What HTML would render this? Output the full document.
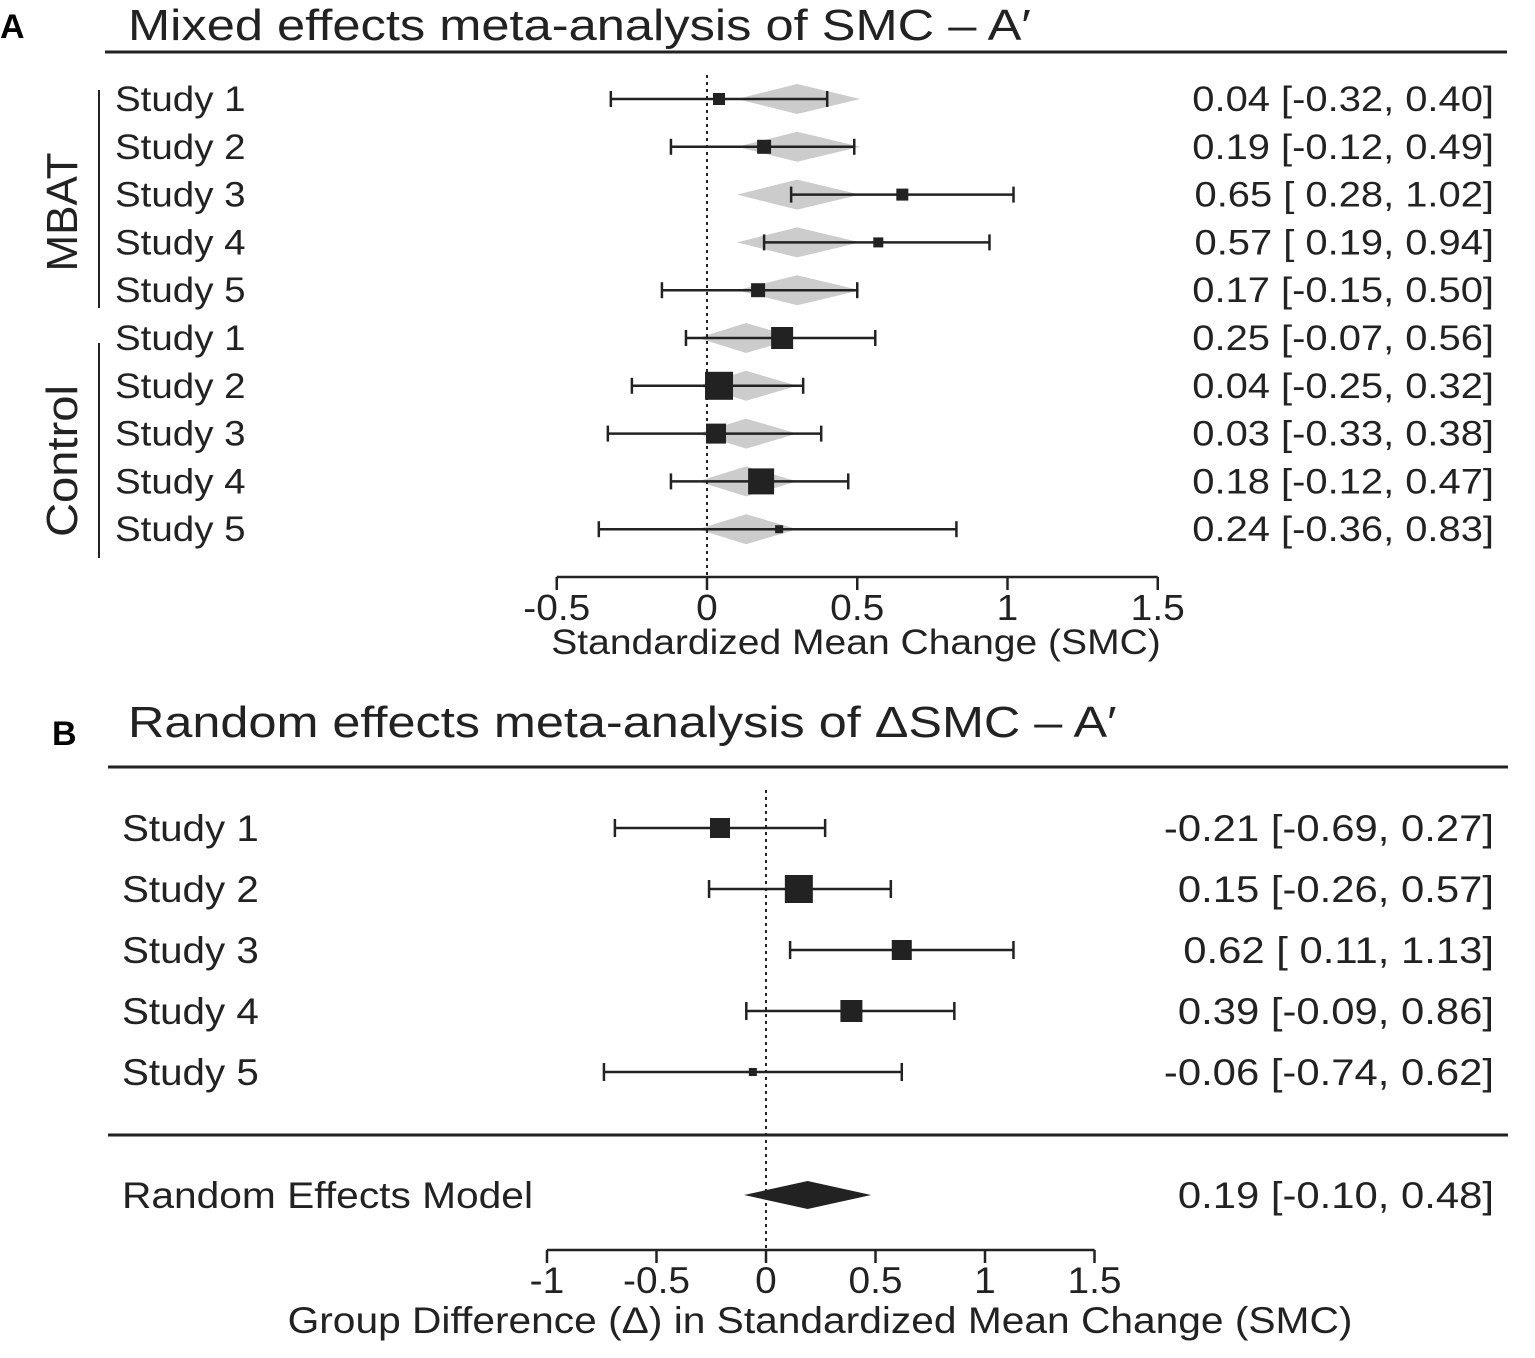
<!DOCTYPE html>
<html><head><meta charset="utf-8"><style>
body{margin:0;background:#fff}
svg{display:block;font-family:"Liberation Sans",sans-serif}
</style></head><body>
<svg id="c" width="1535" height="1358" viewBox="0 0 1535 1358">
<text x="0" y="38" font-size="34" font-weight="bold">A</text>
<text class="w" data-f="1.15" x="128" y="40" font-size="44" fill="#222">Mixed effects meta-analysis of SMC – A′</text>
<line x1="105" y1="52" x2="1507" y2="52" stroke="#222" stroke-width="3"/>
<line x1="99" y1="90" x2="99" y2="308" stroke="#222" stroke-width="2"/>
<line x1="99" y1="343" x2="99" y2="558" stroke="#222" stroke-width="2"/>
<text transform="translate(77,212) rotate(-90)" text-anchor="middle" font-size="44" fill="#222">MBAT</text>
<text transform="translate(77,461) rotate(-90)" text-anchor="middle" font-size="44" fill="#222" textLength="152" lengthAdjust="spacingAndGlyphs">Control</text>
<text class="w" data-f="1.145" x="128" y="737" font-size="44" fill="#222">Random effects meta-analysis of ΔSMC – A′</text>
<text x="52" y="745" font-size="34" font-weight="bold">B</text>
<line x1="108" y1="767" x2="1508" y2="767" stroke="#222" stroke-width="3"/>
<line x1="108" y1="1135" x2="1508" y2="1135" stroke="#222" stroke-width="3"/>
<g id="ga"></g><g id="gb"></g>
</svg>
<script>
const aLabels=["Study 1","Study 2","Study 3","Study 4","Study 5","Study 1","Study 2","Study 3","Study 4","Study 5"];
const aEst=[0.04,0.19,0.65,0.57,0.17,0.25,0.04,0.03,0.18,0.24];
const aLo=[-0.32,-0.12,0.28,0.19,-0.15,-0.07,-0.25,-0.33,-0.12,-0.36];
const aHi=[0.40,0.49,1.02,0.94,0.50,0.56,0.32,0.38,0.47,0.83];
const aWeight=[12,14,12,10,14,22,28,20,26,8];
const aPredMbat=[0.10,0.30,0.51];
const aPredCtrl=[-0.03,0.13,0.30];
const aTicks=[-0.5,0,0.5,1,1.5];
const bLabels=["Study 1","Study 2","Study 3","Study 4","Study 5"];
const bEst=[-0.21,0.15,0.62,0.39,-0.06];
const bLo=[-0.69,-0.26,0.11,-0.09,-0.74];
const bHi=[0.27,0.57,1.13,0.86,0.62];
const bWeight=[20,28,20,22,8];
const bRE=[0.19,-0.10,0.48];
const bTicks=[-1,-0.5,0,0.5,1,1.5];
const NS="http://www.w3.org/2000/svg";
function mk(p,t,at){const e=document.createElementNS(NS,t);for(const k in at)e.setAttribute(k,at[k]);p.appendChild(e);return e;}
const f=v=>v.toFixed(2);
const ci=(e,l,h)=>(e<0?"-":"")+f(Math.abs(e))+" ["+(l<0?"-":" ")+f(Math.abs(l))+", "+f(h)+"]";
// Panel A
const xa=v=>707+v*300.5, ya=i=>99+i*47.8;
const ga=document.getElementById('ga');
aLabels.forEach((lab,i)=>{
 const y=ya(i), pr=i<5?aPredMbat:aPredCtrl;
 let d=mk(ga,'polygon',{points:`${xa(pr[0])},${y} ${xa(pr[1])},${y-15} ${xa(pr[2])},${y} ${xa(pr[1])},${y+15}`,fill:'#ccc'});
 
 
});
let dl=mk(ga,'line',{x1:xa(0),y1:75,x2:xa(0),y2:577,stroke:'#222','stroke-width':2,'stroke-dasharray':'3,4'});


aLabels.forEach((lab,i)=>{
 const y=ya(i);
 let t=mk(ga,'text',{x:115,y:y+12,'font-size':35,fill:'#222',class:'w'});t.textContent=lab;
 
 
 let l=mk(ga,'line',{x1:xa(aLo[i]),y1:y,x2:xa(aHi[i]),y2:y,stroke:'#222','stroke-width':2.5});
 
 
 [aLo[i],aHi[i]].forEach(v=>{let c=mk(ga,'line',{x1:xa(v),y1:y-8,x2:xa(v),y2:y+8,stroke:'#222','stroke-width':2.5});
 
 });
 const s=aWeight[i];
 let r=mk(ga,'rect',{x:xa(aEst[i])-s/2,y:y-s/2,width:s,height:s,fill:'#222'});
 
 
 let v=mk(ga,'text',{x:1494,y:y+12,'font-size':35,fill:'#222','text-anchor':'end',class:'w','data-f':'1.14'});v.textContent=ci(aEst[i],aLo[i],aHi[i]);
 
 
});
let ax=mk(ga,'line',{x1:xa(-0.5),y1:577,x2:xa(1.5),y2:577,stroke:'#222','stroke-width':2.5});


aTicks.forEach(v=>{let k=mk(ga,'line',{x1:xa(v),y1:577,x2:xa(v),y2:590,stroke:'#222','stroke-width':2.5});
 
 
 let t=mk(ga,'text',{x:xa(v),y:620,'font-size':36,fill:'#222','text-anchor':'middle',class:'w','data-f':'1.08'});t.textContent=String(v);
 
 });
let at=mk(ga,'text',{x:856,y:654,'font-size':35,fill:'#222','text-anchor':'middle',class:'w','data-f':'1.115'});at.textContent="Standardized Mean Change (SMC)";


// Panel B
const xb=v=>766+v*219, yb=i=>828+i*61;
const gb=document.getElementById('gb');
let db=mk(gb,'line',{x1:xb(0),y1:790,x2:xb(0),y2:1250,stroke:'#222','stroke-width':2,'stroke-dasharray':'3,4'});


bLabels.forEach((lab,i)=>{
 const y=yb(i);
 let t=mk(gb,'text',{x:122,y:y+13,'font-size':37,fill:'#222',class:'w','data-f':'1.09'});t.textContent=lab;
 
 
 let l=mk(gb,'line',{x1:xb(bLo[i]),y1:y,x2:xb(bHi[i]),y2:y,stroke:'#222','stroke-width':2.5});
 
 
 [bLo[i],bHi[i]].forEach(v=>{let c=mk(gb,'line',{x1:xb(v),y1:y-9,x2:xb(v),y2:y+9,stroke:'#222','stroke-width':2.5});
 
 });
 const s=bWeight[i];
 let r=mk(gb,'rect',{x:xb(bEst[i])-s/2,y:y-s/2,width:s,height:s,fill:'#222'});
 
 
 let v=mk(gb,'text',{x:1494,y:y+13,'font-size':37,fill:'#222','text-anchor':'end',class:'w','data-f':'1.13'});v.textContent=ci(bEst[i],bLo[i],bHi[i]);
 
 
});
const yr=1195;
let rl=mk(gb,'text',{x:122,y:yr+13,'font-size':37,fill:'#222',class:'w','data-f':'1.10'});rl.textContent="Random Effects Model";


let rd=mk(gb,'polygon',{points:`${xb(bRE[1])},${yr} ${xb(bRE[0])},${yr-14} ${xb(bRE[2])},${yr} ${xb(bRE[0])},${yr+14}`,fill:'#222'});


let rv=mk(gb,'text',{x:1494,y:yr+13,'font-size':37,fill:'#222','text-anchor':'end',class:'w','data-f':'1.13'});rv.textContent=ci(bRE[0],bRE[1],bRE[2]);


let bx=mk(gb,'line',{x1:xb(-1),y1:1250,x2:xb(1.5),y2:1250,stroke:'#222','stroke-width':2.5});


bTicks.forEach(v=>{let k=mk(gb,'line',{x1:xb(v),y1:1250,x2:xb(v),y2:1263,stroke:'#222','stroke-width':2.5});
 
 
 let t=mk(gb,'text',{x:xb(v),y:1293,'font-size':37,fill:'#222','text-anchor':'middle',class:'w','data-f':'1.05'});t.textContent=String(v);
 
 });
let bt=mk(gb,'text',{x:820,y:1333,'font-size':37,fill:'#222','text-anchor':'middle',class:'w','data-f':'1.10'});bt.textContent="Group Difference (Δ) in Standardized Mean Change (SMC)";


// widen text to match reference glyph widths
document.querySelectorAll('text.w').forEach(t=>{
 const fac=parseFloat(t.getAttribute('data-f')||'1.10');
 const w=t.getComputedTextLength();
 t.setAttribute('textLength',(w*fac).toFixed(1));
 t.setAttribute('lengthAdjust','spacingAndGlyphs');
});
</script>
</body></html>
